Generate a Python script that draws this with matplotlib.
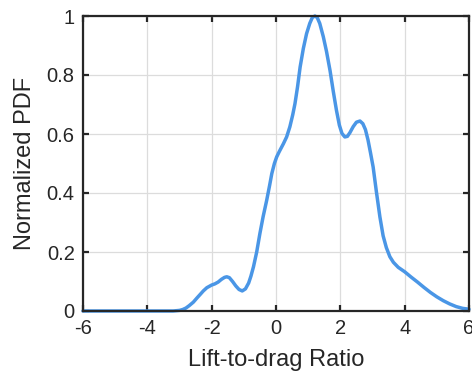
import matplotlib
matplotlib.use("Agg")
import matplotlib.pyplot as plt

# Data
x_vals = [-6.0, -4.0, -3.2, -3.0, -2.9, -2.8, -2.7, -2.57, -2.45, -2.35, -2.26, -2.15,
          -2.0, -1.9, -1.8, -1.7, -1.6, -1.53, -1.45, -1.35, -1.25, -1.15, -1.05, -0.95,
          -0.85, -0.78, -0.70, -0.6, -0.5, -0.4, -0.29, -0.2, -0.13, -0.05, 0.02, 0.1,
          0.23, 0.33, 0.43, 0.52, 0.59, 0.67, 0.75, 0.85, 0.95, 1.05, 1.13, 1.21, 1.28,
          1.36, 1.47, 1.57, 1.68, 1.78, 1.88, 1.97, 2.05, 2.14, 2.22, 2.3, 2.4, 2.5, 2.61,
          2.7, 2.78, 2.86, 2.94, 3.02, 3.12, 3.23, 3.33, 3.43, 3.54, 3.65, 3.8, 4.0, 4.2,
          4.4, 4.6, 4.8, 5.0, 5.2, 5.4, 5.6, 5.8, 6.0]
pdf_vals = [0.0, 0.0, 0.0, 0.002, 0.005, 0.01, 0.018, 0.03, 0.045, 0.057, 0.068, 0.079,
            0.088, 0.092, 0.098, 0.107, 0.114, 0.116, 0.113, 0.1, 0.085, 0.073, 0.068, 0.075,
            0.095, 0.118, 0.15, 0.2, 0.263, 0.32, 0.375, 0.425, 0.466, 0.5, 0.522, 0.54,
            0.567, 0.59, 0.624, 0.665, 0.703, 0.76, 0.827, 0.89, 0.94, 0.975, 0.995, 1.0, 0.995,
            0.975, 0.93, 0.88, 0.815, 0.745, 0.68, 0.63, 0.602, 0.59, 0.592, 0.605, 0.625, 0.64, 0.644,
            0.635, 0.615, 0.58, 0.535, 0.488, 0.405, 0.319, 0.255, 0.215, 0.184, 0.165, 0.148, 0.133, 0.115,
            0.098, 0.08, 0.063, 0.048, 0.035, 0.024, 0.015, 0.009, 0.006]
x_ticks = [-6, -4, -2, 0, 2, 4, 6]
y_ticks = [0, 0.2, 0.4, 0.6, 0.8, 1]
y_tick_labels = ["0", "0.2", "0.4", "0.6", "0.8", "1"]
x_label = "Lift-to-drag Ratio"
y_label = "Normalized PDF"

plt.rcParams['font.family'] = ['Liberation Sans', 'DejaVu Sans']
text_color = '#262626'

fig = plt.figure(figsize=(4.72, 3.84), dpi=100)
ax = fig.add_axes([83/472, (384-311)/384, (469-83)/472, (311-16)/384])
ax.plot(x_vals, pdf_vals, color='#4A96E6', linewidth=2.5,
        solid_capstyle='round', solid_joinstyle='round', clip_on=False)
ax.set_xlim(-6, 6)
ax.set_ylim(0, 1)
ax.set_xticks(x_ticks)
ax.set_xticklabels([str(t) for t in x_ticks])
ax.set_yticks(y_ticks)
ax.set_yticklabels(y_tick_labels)
ax.grid(True, color='#dcdcdc', linewidth=0.9)
ax.set_axisbelow(True)
for s in ax.spines.values():
    s.set_color(text_color)
    s.set_linewidth(1.6)
ax.tick_params(direction='in', length=4, width=1.6, colors=text_color,
               labelsize=14.5, top=True, right=True, labeltop=False, labelright=False, pad=6)
ax.set_xlabel(x_label, fontsize=17, color=text_color, labelpad=8)
ax.set_ylabel(y_label, fontsize=17, color=text_color, labelpad=8)
fig.savefig("out.png", dpi=100)
